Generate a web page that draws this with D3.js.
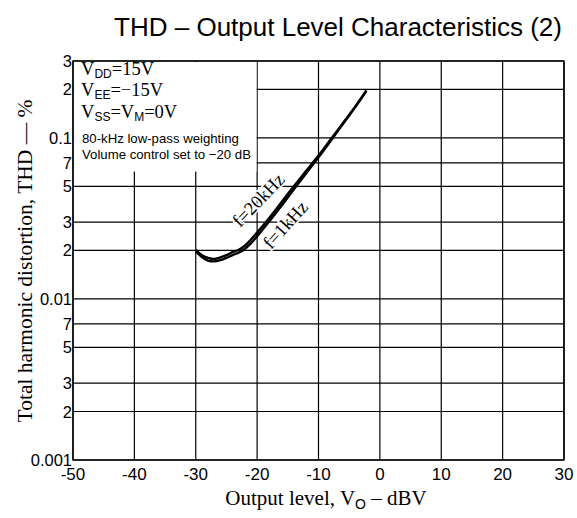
<!DOCTYPE html>
<html>
<head>
<meta charset="utf-8">
<script src="https://cdn.jsdelivr.net/npm/d3@7"></script>
<style>
  body { margin: 0; background: #fff; }
  svg { display: block; }
</style>
</head>
<body>
<svg id="chart" width="577" height="518"></svg>
<script>
// data (output level in dBV, THD in %)
const levels = [-30, -29, -28, -27, -26, -25, -24, -23, -22, -21, -20, -18, -16, -14, -12, -10, -8, -6, -4, -2.2];
const thd1k  = [0.0198, 0.0182, 0.0173, 0.0171, 0.0174, 0.0180, 0.0187, 0.0194, 0.0204, 0.0222, 0.0245, 0.0304, 0.0380, 0.0480, 0.0603, 0.0757, 0.0960, 0.1224, 0.1552, 0.1950];
const thd20k = [0.0202, 0.0187, 0.0180, 0.0177, 0.0181, 0.0187, 0.0195, 0.0202, 0.0214, 0.0234, 0.0258, 0.0319, 0.0400, 0.0502, 0.0624, 0.0776, 0.0980, 0.1236, 0.1568, 0.1970];
const xTicks = [-50, -40, -30, -20, -10, 0, 10, 20, 30];
const yTicks = [0.001, 0.002, 0.003, 0.005, 0.007, 0.01, 0.02, 0.03, 0.05, 0.07, 0.1, 0.2, 0.3];
const yTickLabels = ["0.001", "2", "3", "5", "7", "0.01", "2", "3", "5", "7", "0.1", "2", "3"];

const margin = { top: 61, bottom: 58, left: 73, right: 13 };
const svg = d3.select("#chart"),
    width = +svg.attr("width"),
    height = +svg.attr("height");

const x = d3.scaleLinear().domain([-50, 30]).range([margin.left, width - margin.right]);
const y = d3.scaleLog().domain([0.001, 0.3]).range([height - margin.bottom, margin.top]);

const sans = "'Liberation Sans', Arial, sans-serif";
const serif = "'Liberation Serif', 'Times New Roman', serif";

// title
svg.append("text")
    .attr("x", 562).attr("y", 36)
    .attr("text-anchor", "end")
    .style("font-family", sans).style("font-size", "26px")
    .text("THD \u2013 Output Level Characteristics (2)");

// grid
const grid = svg.append("g").attr("stroke", "#000").attr("stroke-width", 1.2);
grid.selectAll("line.h").data(yTicks).join("line")
    .attr("x1", x(-50)).attr("x2", x(30))
    .attr("y1", d => y(d)).attr("y2", d => y(d));
grid.selectAll("line.v").data(xTicks).join("line")
    .attr("x1", d => x(d)).attr("x2", d => x(d))
    .attr("y1", y(0.001)).attr("y2", y(0.3));

// white area behind the conditions text
svg.append("rect")
    .attr("x", x(-50) + 1).attr("y", y(0.3) + 1)
    .attr("width", x(-20) - x(-50) - 1.6)
    .attr("height", y(0.06) - y(0.3) - 3)
    .attr("fill", "#fff");

// frame
svg.append("rect")
    .attr("x", x(-50)).attr("y", y(0.3))
    .attr("width", x(30) - x(-50)).attr("height", y(0.001) - y(0.3))
    .attr("fill", "none").attr("stroke", "#000").attr("stroke-width", 1.4);

// conditions text
const cond = svg.append("g").style("font-family", serif).style("font-size", "18.5px");
function subText(yy, parts) {
    const t = cond.append("text").attr("x", 81).attr("y", yy);
    parts.forEach(p => {
        if (p[1]) t.append("tspan").attr("dy", 3).style("font-size", "12px").style("font-family", sans).text(p[0]);
        else t.append("tspan").attr("dy", t.selectAll("tspan").size() ? -3 : 0).text(p[0]);
    });
}
subText(78, [["V"], ["DD", 1], ["=15V"]]);
subText(99, [["V"], ["EE", 1], ["=\u221215V"]]);
subText(121, [["V"], ["SS", 1], ["=V"], ["M", 1], ["=0V"]]);
svg.append("text").attr("x", 82).attr("y", 143)
    .style("font-family", sans).style("font-size", "13.2px")
    .text("80-kHz low-pass weighting");
svg.append("text").attr("x", 82).attr("y", 159)
    .style("font-family", sans).style("font-size", "13.2px")
    .text("Volume control set to \u221220 dB");

// curves
const line = d3.line().x(d => x(d[0])).y(d => y(d[1])).curve(d3.curveCatmullRom);
const curves = [levels.map((v, i) => [v, thd1k[i]]), levels.map((v, i) => [v, thd20k[i]])];
svg.selectAll("path.curve").data(curves).join("path")
    .attr("class", "curve")
    .attr("d", line)
    .attr("fill", "none").attr("stroke", "#000").attr("stroke-width", 2.4);

// curve labels
const lab = svg.append("g").style("font-family", serif).style("font-size", "18.5px")
    .attr("stroke", "#fff").attr("stroke-width", 3).attr("paint-order", "stroke");
lab.append("text").attr("transform", "translate(240,228) rotate(-46)")
    .attr("fill", "#000").text("f=20kHz");
lab.append("text").attr("transform", "translate(271,250) rotate(-48)")
    .attr("fill", "#000").text("f=1kHz");

// tick labels
svg.append("g").selectAll("text").data(xTicks).join("text")
    .attr("x", d => x(d)).attr("y", y(0.001) + 20)
    .attr("text-anchor", "middle")
    .style("font-family", sans).style("font-size", "17px")
    .text(d => d);
svg.append("g").selectAll("text").data(yTicks).join("text")
    .attr("x", x(-50) - 1).attr("y", d => y(d) + 6)
    .attr("text-anchor", "end")
    .style("font-family", sans).style("font-size", "16.5px")
    .text((d, i) => yTickLabels[i]);

// axis titles
const xt = svg.append("text").attr("x", 326).attr("y", 505)
    .attr("text-anchor", "middle")
    .style("font-family", serif).style("font-size", "21px");
xt.append("tspan").text("Output level, V");
xt.append("tspan").attr("dy", 4).style("font-size", "14px").style("font-family", sans).text("O");
xt.append("tspan").attr("dy", -4).text(" \u2013 dBV");

svg.append("text")
    .attr("transform", "translate(32,261) rotate(-90)")
    .attr("text-anchor", "middle")
    .style("font-family", serif).style("font-size", "21.5px")
    .text("Total harmonic distortion, THD \u2014 %");
</script>
</body>
</html>
